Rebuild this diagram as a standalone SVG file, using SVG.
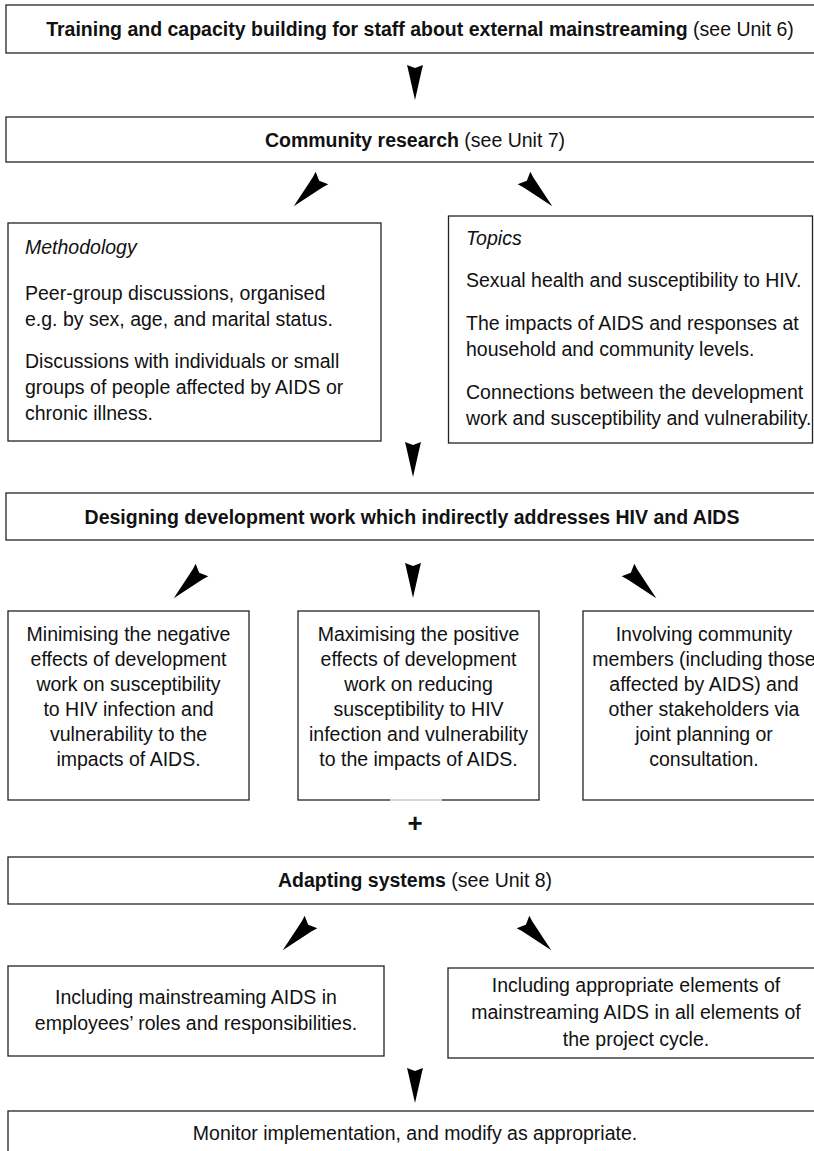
<svg xmlns="http://www.w3.org/2000/svg" xmlns:xlink="http://www.w3.org/1999/xlink" width="814" height="1151" viewBox="0 0 814 1151">
<style>
  .box { fill: #ffffff; stroke: #222; stroke-width: 1.3; }
  text { font-family: "Liberation Sans", Arial, sans-serif; font-size: 19.5px; fill: #111; }
  .c { text-anchor: middle; }
  .b { font-weight: bold; }
  .i { font-style: italic; }
  .ah { fill: #000; }
</style>
<defs>
  <path id="head" class="ah" d="M -8 0 L 0 3 L 8 0 L 7 4 L 0 35 L -7 4 Z"/>
  <path id="headd" class="ah" d="M -9 0 L 0 4 L 9 0 L 7 6 L 0 40 L -7 6 Z"/>
</defs>
<rect width="814" height="1151" fill="#fff"/>

<g id="connectors">
  <use xlink:href="#head" transform="translate(415,65)"/>
  <use xlink:href="#headd" transform="translate(322,178) rotate(45)"/>
  <use xlink:href="#headd" transform="translate(524,178) rotate(-45)"/>
  <use xlink:href="#head" transform="translate(413,442)"/>
  <use xlink:href="#headd" transform="translate(202,570) rotate(45)"/>
  <use xlink:href="#head" transform="translate(413,563)"/>
  <use xlink:href="#headd" transform="translate(628,570) rotate(-45)"/>
  <use xlink:href="#headd" transform="translate(311,922) rotate(45)"/>
  <use xlink:href="#headd" transform="translate(523,922) rotate(-45)"/>
  <use xlink:href="#head" transform="translate(415,1068)"/>
  <text class="c b" x="415" y="832" style="font-size:26px">+</text>
</g>

<g id="n-training">
  <rect class="box" x="6" y="5" width="830" height="48"/>
  <text class="c" x="420" y="36"><tspan class="b">Training and capacity building for staff about external mainstreaming</tspan> (see Unit 6)</text>
</g>

<g id="n-research">
  <rect class="box" x="6" y="117" width="830" height="45"/>
  <text class="c" x="415" y="147"><tspan class="b">Community research</tspan> (see Unit 7)</text>
</g>

<g id="n-methodology">
  <rect class="box" x="8" y="223" width="373" height="218"/>
  <text class="i" x="25" y="254">Methodology</text>
  <text x="25" y="300">Peer-group discussions, organised</text>
  <text x="25" y="326">e.g. by sex, age, and marital status.</text>
  <text x="25" y="368">Discussions with individuals or small</text>
  <text x="25" y="394">groups of people affected by AIDS or</text>
  <text x="25" y="420">chronic illness.</text>
</g>

<g id="n-topics">
  <rect class="box" x="448.5" y="216" width="364" height="227"/>
  <text class="i" x="466" y="245">Topics</text>
  <text x="466" y="287">Sexual health and susceptibility to HIV.</text>
  <text x="466" y="330">The impacts of AIDS and responses at</text>
  <text x="466" y="356">household and community levels.</text>
  <text x="466" y="399">Connections between the development</text>
  <text x="466" y="425">work and susceptibility and vulnerability.</text>
</g>

<g id="n-designing">
  <rect class="box" x="6" y="493" width="830" height="47"/>
  <text class="c b" x="412" y="524">Designing development work which indirectly addresses HIV and AIDS</text>
</g>

<g id="n-minimising">
  <rect class="box" x="8" y="611" width="241" height="189"/>
  <text class="c" x="128.5" y="641">Minimising the negative</text>
  <text class="c" x="128.5" y="666">effects of development</text>
  <text class="c" x="128.5" y="691">work on susceptibility</text>
  <text class="c" x="128.5" y="716">to HIV infection and</text>
  <text class="c" x="128.5" y="741">vulnerability to the</text>
  <text class="c" x="128.5" y="766">impacts of AIDS.</text>
</g>

<g id="n-maximising">
  <rect class="box" x="298" y="611" width="241" height="189"/>
  <line x1="390" y1="800" x2="442" y2="800" stroke="#d8d8d8" stroke-width="2"/>
  <text class="c" x="418.5" y="641">Maximising the positive</text>
  <text class="c" x="418.5" y="666">effects of development</text>
  <text class="c" x="418.5" y="691">work on reducing</text>
  <text class="c" x="418.5" y="716">susceptibility to HIV</text>
  <text class="c" x="418.5" y="741">infection and vulnerability</text>
  <text class="c" x="418.5" y="766">to the impacts of AIDS.</text>
</g>

<g id="n-involving">
  <rect class="box" x="583" y="611" width="242" height="189"/>
  <text class="c" x="704" y="641">Involving community</text>
  <text class="c" x="704" y="666">members (including those</text>
  <text class="c" x="704" y="691">affected by AIDS) and</text>
  <text class="c" x="704" y="716">other stakeholders via</text>
  <text class="c" x="704" y="741">joint planning or</text>
  <text class="c" x="704" y="766">consultation.</text>
</g>

<g id="n-adapting">
  <rect class="box" x="8" y="857" width="830" height="47"/>
  <text class="c" x="415" y="887"><tspan class="b">Adapting systems</tspan> (see Unit 8)</text>
</g>

<g id="n-roles">
  <rect class="box" x="8" y="966" width="376" height="90"/>
  <text class="c" x="196" y="1004">Including mainstreaming AIDS in</text>
  <text class="c" x="196" y="1030">employees’ roles and responsibilities.</text>
</g>

<g id="n-cycle">
  <rect class="box" x="448" y="968" width="380" height="90"/>
  <text class="c" x="636" y="992">Including appropriate elements of</text>
  <text class="c" x="636" y="1019">mainstreaming AIDS in all elements of</text>
  <text class="c" x="636" y="1046">the project cycle.</text>
</g>

<g id="n-monitor">
  <rect class="box" x="8" y="1111" width="830" height="60"/>
  <text class="c" x="415" y="1140">Monitor implementation, and modify as appropriate.</text>
</g>
</svg>
